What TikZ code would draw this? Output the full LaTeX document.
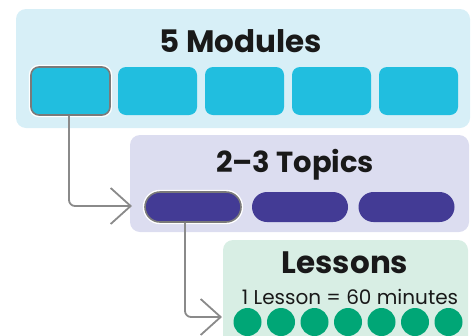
\documentclass[tikz,border=0pt]{standalone}
\usepackage{fontspec}
\setmainfont{Poppins}
\usetikzlibrary{arrows.meta}
\definecolor{boxA}{HTML}{D7EFF7}
\definecolor{modc}{HTML}{21BEDF}
\definecolor{boxB}{HTML}{DCDDF0}
\definecolor{pillc}{HTML}{433B95}
\definecolor{boxC}{HTML}{D8EEE4}
\definecolor{dotc}{HTML}{00A676}
\definecolor{congray}{HTML}{8A8A8A}
\definecolor{selgray}{HTML}{7A7A7A}
\tikzset{
  modbox/.style={fill=modc, rounded corners=8pt, minimum width=79pt, minimum height=48pt, inner sep=0pt},
  pillbox/.style={fill=pillc, rounded corners=15pt, minimum width=96pt, minimum height=30pt, inner sep=0pt},
  dotnode/.style={circle, fill=dotc, minimum size=28pt, inner sep=0pt},
  selected/.style={draw=selgray, line width=1.6pt, preaction={draw=white, line width=4.4pt}},
  titletext/.style={font=\bfseries\fontsize{31}{31}\selectfont, text=black!90, inner sep=0pt, anchor=base},
  subtext/.style={font=\fontsize{20}{20}\selectfont, text=black!90, inner sep=0pt, anchor=base},
  connector/.style={draw=congray, line width=1.8pt, rounded corners=6pt,
    -{Straight Barb[length=20pt, width=36pt, line width=1.8pt]}},
}
\begin{document}
\begin{tikzpicture}[x=1pt, y=-1pt]
\useasboundingbox (0,0) rectangle (476,335);
\begin{scope}
\clip (0,0) rectangle (476,335);
% panels
\fill[boxA, rounded corners=10pt] (16,9) rectangle (470,128);
\fill[boxB, rounded corners=10pt] (130,135) rectangle (469,232);
\fill[boxC, rounded corners=10pt] (223,240) rectangle (468,350);
% titles
\node[titletext] (t1) at (241,52) {5 Modules};
\node[titletext, font=\bfseries\fontsize{29}{29}\selectfont] (t2) at (295,172) {2–3 Topics};
\node[titletext] (t3) at (345,273) {Lessons};
\node[subtext] (s3) at (350,304) {1 Lesson = 60 minutes};
% modules
\node[modbox, selected] (m1) at (70.5,91) {};
\node[modbox] (m2) at (157.5,91) {};
\node[modbox] (m3) at (244.5,91) {};
\node[modbox] (m4) at (331.5,91) {};
\node[modbox] (m5) at (418.5,91) {};
% topics
\node[pillbox, selected] (p1) at (193,207) {};
\node[pillbox] (p2) at (300,207) {};
\node[pillbox] (p3) at (406.5,207) {};
% lessons
\foreach \i in {0,...,6} {
  \node[dotnode] (d\i) at (247.5+33.5*\i,322) {};
}
% connectors
\coordinate (a1) at (132,206);
\coordinate (a2) at (222,317);
\draw[connector] ([xshift=-1.5pt]m1.south) |- (a1);
\draw[connector] ([xshift=-8pt]p1.south) |- (a2);
\end{scope}
\end{tikzpicture}
\end{document}
